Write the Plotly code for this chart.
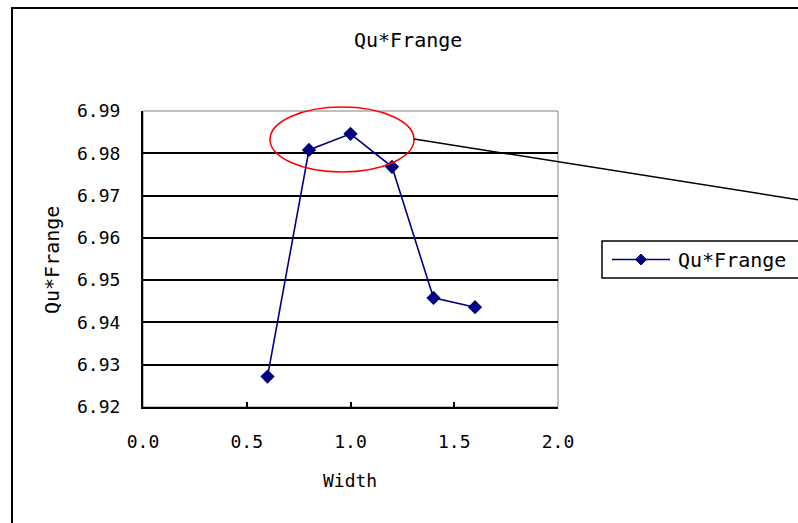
import plotly.graph_objects as go

# Data
widths = [0.6, 0.8, 1.0, 1.2, 1.4, 1.6]
qu_frange = [6.9272, 6.9808, 6.9846, 6.9768, 6.9458, 6.9436]
series_name = "Qu*Frange"
chart_title = "Qu*Frange"
x_title = "Width"
y_title = "Qu*Frange"
x_ticks = [0.0, 0.5, 1.0, 1.5, 2.0]
x_tick_labels = ["0.0", "0.5", "1.0", "1.5", "2.0"]
y_ticks = [6.92, 6.93, 6.94, 6.95, 6.96, 6.97, 6.98, 6.99]
y_tick_labels = ["6.92", "6.93", "6.94", "6.95", "6.96", "6.97", "6.98", "6.99"]

W, H = 798, 523
L, R, T, B = 143, 558, 111, 407  # plot area in pixels
FONT = "DejaVu Sans Mono"
FS = 18
FS_BIG = 20
NAVY = "#000080"


def px(xp):
    return (xp - L) / (R - L)


def py(yp):
    return (B - yp) / (B - T)


fig = go.Figure()
fig.add_trace(go.Scatter(
    x=widths, y=qu_frange, mode="lines+markers", name=series_name,
    line=dict(color=NAVY, width=1.6),
    marker=dict(symbol="diamond", size=11, color=NAVY),
    showlegend=False,
))

LEG_Y = 259.5
shapes = [
    # outer chart border
    dict(type="rect", xref="paper", yref="paper", x0=px(12), x1=px(805), y0=py(8), y1=py(535),
         line=dict(color="#000000", width=2), layer="below"),
    # plot area border (grey)
    dict(type="rect", xref="paper", yref="paper", x0=0, x1=1, y0=0, y1=1,
         line=dict(color="#808080", width=1), layer="below"),
    # red ellipse
    dict(type="circle", xref="paper", yref="paper", x0=px(270), x1=px(414), y0=py(172), y1=py(107),
         line=dict(color="#ff0000", width=1.5)),
    # pointer line
    dict(type="line", xref="paper", yref="paper", x0=px(414), y0=py(139), x1=px(800), y1=py(200),
         line=dict(color="#000000", width=1.5)),
    # legend box
    dict(type="rect", xref="paper", yref="paper", x0=px(602), x1=px(810), y0=py(278), y1=py(241),
         line=dict(color="#000000", width=1.5)),
    # legend line
    dict(type="line", xref="paper", yref="paper", x0=px(612), x1=px(670), y0=py(LEG_Y), y1=py(LEG_Y),
         line=dict(color=NAVY, width=1.6)),
    # legend diamond
    dict(type="path", xref="paper", yref="paper", xsizemode="pixel", ysizemode="pixel",
         xanchor=px(641), yanchor=py(LEG_Y),
         path="M0,-5.5 L5.5,0 L0,5.5 L-5.5,0 Z", fillcolor=NAVY, line=dict(color=NAVY, width=1)),
]

annotations = [
    dict(text=chart_title, xref="paper", yref="paper", x=px(408), y=py(40), showarrow=False,
         font=dict(family=FONT, size=FS_BIG, color="#000000"), xanchor="center", yanchor="middle"),
    dict(text=x_title, xref="paper", yref="paper", x=px(350), y=py(480), showarrow=False,
         font=dict(family=FONT, size=FS, color="#000000"), xanchor="center", yanchor="middle"),
    dict(text=y_title, xref="paper", yref="paper", x=px(52), y=py(260), showarrow=False, textangle=-90,
         font=dict(family=FONT, size=FS_BIG, color="#000000"), xanchor="center", yanchor="middle"),
    # legend text
    dict(text=series_name, xref="paper", yref="paper", x=px(676), y=py(LEG_Y), showarrow=False,
         font=dict(family=FONT, size=FS_BIG, color="#000000"), xanchor="left", yanchor="middle"),
]

fig.update_layout(
    width=W, height=H,
    margin=dict(l=L, r=W - R, t=T, b=H - B, pad=0),
    paper_bgcolor="#ffffff", plot_bgcolor="#ffffff",
    font=dict(family=FONT, size=FS, color="#000000"),
    showlegend=False,
    shapes=shapes,
    annotations=annotations,
    xaxis=dict(range=[0, 2], tickvals=x_ticks, ticktext=x_tick_labels,
               showgrid=False, zeroline=False, showline=True, linecolor="#000000", linewidth=2,
               ticks="inside", ticklen=5, tickcolor="#000000", tickwidth=1.5,
               ticklabelstandoff=17),
    yaxis=dict(range=[6.92, 6.99], tickvals=y_ticks, ticktext=y_tick_labels,
               showgrid=True, gridcolor="#000000", gridwidth=1.5, zeroline=False,
               showline=True, linecolor="#000000", linewidth=2, ticks="", ticklabelstandoff=17),
)

fig.write_html("out.html")
